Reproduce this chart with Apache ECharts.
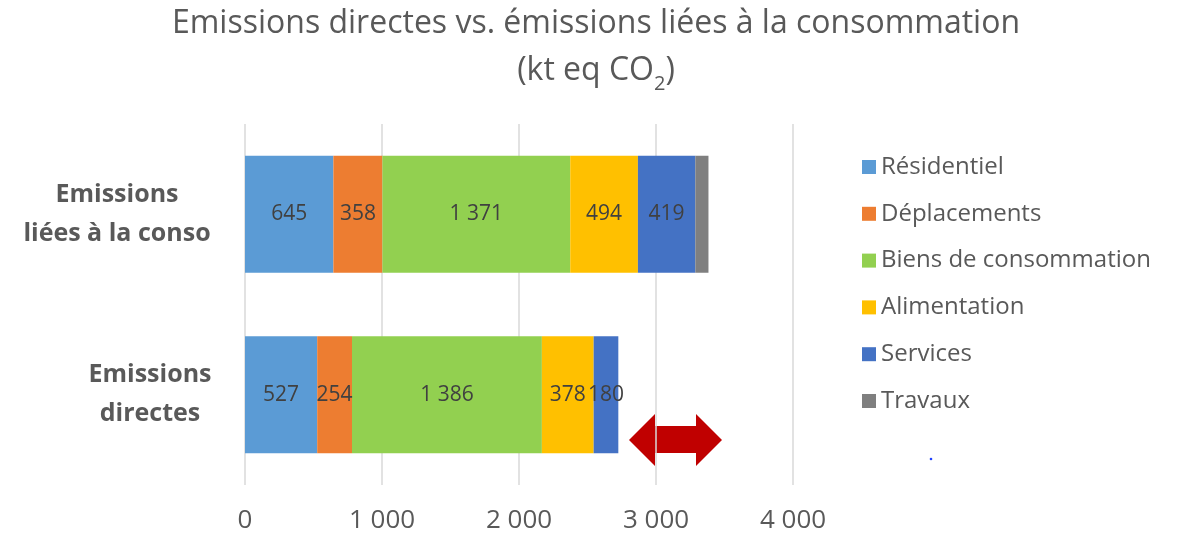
<!DOCTYPE html>
<html><head><meta charset="utf-8">
<script src="https://cdn.jsdelivr.net/npm/echarts@6/dist/echarts.min.js"></script>
<style>html,body{margin:0;padding:0;background:#fff;}#c{width:1181px;height:554px;}</style>
</head><body><div id="c"></div>
<script>
const categories = ['Emissions\ndirectes', 'Emissions\nliées à la conso'];
const seriesNames = ['Résidentiel', 'Déplacements', 'Biens de consommation', 'Alimentation', 'Services', 'Travaux'];
const residentiel = [527, 645];
const deplacements = [254, 358];
const biens = [1386, 1371];
const alimentation = [378, 494];
const services = [180, 419];
const travaux = [0, 96];
const tickLabels = ['0', '1 000', '2 000', '3 000', '4 000'];
const colors = ['#5B9BD5', '#ED7D31', '#92D050', '#FFC000', '#4472C4', '#7F7F7F'];

const values = [residentiel, deplacements, biens, alimentation, services, travaux];
const FONT = '"Open Sans", "Liberation Sans", sans-serif';

const chart = echarts.init(document.getElementById('c'), null, {renderer: 'canvas'});
chart.setOption({
  animation: false,
  backgroundColor: '#fff',
  title: {
    text: 'Emissions directes vs. émissions liées à la consommation\n{n|(kt eq CO}{s|2}{n|)}',
    left: 596, top: 0, padding: 0, textAlign: 'center',
    textStyle: {
      fontFamily: FONT, fontSize: 32, fontWeight: 'normal', color: '#595959', lineHeight: 47,
      rich: {
        n: {fontFamily: FONT, fontSize: 32, color: '#595959', lineHeight: 47},
        s: {fontFamily: FONT, fontSize: 20, color: '#595959', verticalAlign: 'bottom', padding: [16, 0, 0, 0], lineHeight: 47}
      }
    }
  },
  legend: {
    orient: 'vertical', left: 857, top: 150,
    itemWidth: 14, itemHeight: 14, itemGap: 22.8, icon: 'rect',
    textStyle: {fontFamily: FONT, fontSize: 24, color: '#595959', padding: [0, 0, 0, 0]},
    data: seriesNames
  },
  grid: {left: 245, right: 388, top: 124, bottom: 69, containLabel: false},
  xAxis: {
    type: 'value', min: 0, max: 4000, interval: 1000,
    axisLine: {show: false}, axisTick: {show: false},
    splitLine: {lineStyle: {color: '#D9D9D9', width: 1.5}},
    axisLabel: {
      fontFamily: FONT, fontSize: 26, color: '#595959', margin: 23,
      formatter: v => tickLabels[Math.round(v / 1000)]
    }
  },
  yAxis: {
    type: 'category', data: categories,
    axisLine: {show: false}, axisTick: {show: false},
    axisLabel: {
      align: 'right', margin: 30,
      formatter: (v, i) => v.split('\n').map(s => '{' + (i === 1 ? 't' : 'b') + '|' + s + '}').join('\n'),
      rich: {
        t: {fontFamily: FONT, fontSize: 25, fontWeight: 'bold', color: '#595959', width: 196, align: 'center', lineHeight: 39},
        b: {fontFamily: FONT, fontSize: 25, fontWeight: 'bold', color: '#595959', width: 130, align: 'center', lineHeight: 39}
      }
    }
  },
  series: seriesNames.map((name, i) => ({
    name: name, type: 'bar', stack: 'total', barWidth: 117,
    itemStyle: {color: colors[i]},
    label: {
      show: i < 5, position: 'inside', fontFamily: FONT, fontSize: 21, color: '#404040',
      formatter: p => p.value ? String(p.value).replace(/\B(?=(\d{3})+(?!\d))/g, ' ') : ''
    },
    data: values[i]
  })),
  graphic: [
    {type: 'polygon', shape: {points: [[629, 440], [655, 414], [655, 426], [696, 426], [696, 414], [722, 440], [696, 466], [696, 453], [655, 453], [655, 466]]}, style: {fill: '#C00000'}},
    {type: 'circle', shape: {cx: 931, cy: 459, r: 1.3}, style: {fill: '#2244ff'}}
  ]
});
</script></body></html>
